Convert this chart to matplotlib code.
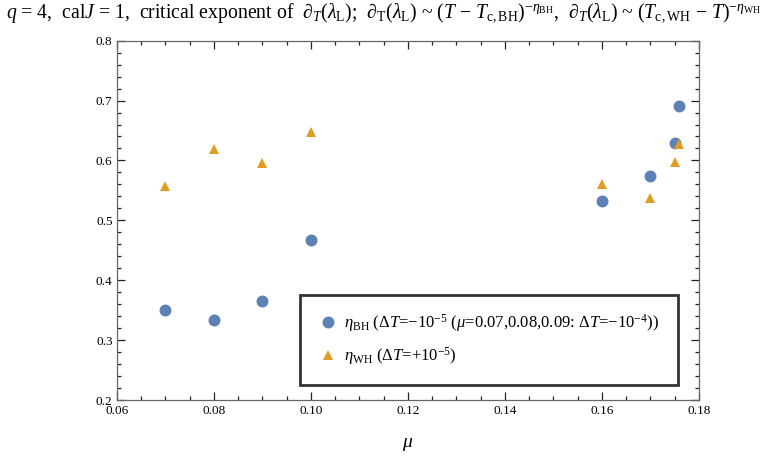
import matplotlib
matplotlib.use("Agg")
import matplotlib.pyplot as plt
from matplotlib.ticker import MultipleLocator

plt.rcParams['font.family'] = ['Liberation Serif', 'DejaVu Serif']
plt.rcParams['mathtext.fontset'] = 'custom'
plt.rcParams['mathtext.rm'] = 'Liberation Serif'
plt.rcParams['mathtext.it'] = 'Liberation Serif:italic'
plt.rcParams['mathtext.bf'] = 'Liberation Serif:bold'

# critical exponents vs chemical potential
mu_values = [0.07, 0.08, 0.09, 0.10, 0.16, 0.17, 0.175, 0.176]
eta_bh = [0.351, 0.333, 0.366, 0.467, 0.532, 0.574, 0.629, 0.691]
eta_wh = [0.557, 0.619, 0.595, 0.647, 0.561, 0.537, 0.598, 0.627]

blue = '#5E81B5'
orange = '#E19C24'

fig = plt.figure(figsize=(7.68, 4.57), dpi=100)
ax = fig.add_axes([0.152, 0.1247, 0.758, 0.7863])

ax.plot(mu_values, eta_bh, 'o', color=blue, markersize=8.6, markeredgewidth=0,
        label=r'$\eta_{\rm BH}$ ($\Delta T$=$-10^{-5}$ ($\mu$=0.07,0.08,0.09: $\Delta T$=$-10^{-4}$))')
ax.plot(mu_values, eta_wh, '^', color=orange, markersize=7.8, markeredgewidth=0,
        label=r'$\eta_{\rm WH}$ ($\Delta T$=+$10^{-5}$)')

ax.set_xlim(0.06, 0.18)
ax.set_ylim(0.2, 0.8)
ax.xaxis.set_major_locator(MultipleLocator(0.02))
ax.xaxis.set_minor_locator(MultipleLocator(0.005))
ax.yaxis.set_major_locator(MultipleLocator(0.1))
ax.yaxis.set_minor_locator(MultipleLocator(0.02))
ax.xaxis.set_major_formatter(matplotlib.ticker.FuncFormatter(lambda v, p: f"{v:.2f}"))
ax.yaxis.set_major_formatter(matplotlib.ticker.FuncFormatter(lambda v, p: f"{v:.1f}"))

ax.tick_params(which='both', direction='in', top=True, right=True,
               labelsize=9.5, color='#222222', width=0.9)
ax.tick_params(axis='x', pad=3.5)
ax.tick_params(axis='y', pad=3)
ax.tick_params(which='major', length=5.5)
ax.tick_params(which='minor', length=3.2)
for s in ax.spines.values():
    s.set_color('#666666')
    s.set_linewidth(0.9)

ax.set_xlabel(r'$\mu$', fontsize=14, family='DejaVu Sans', labelpad=12)
ax.xaxis.label.set_fontstyle('italic')

fig.suptitle(r'$q$ = 4,  cal$J$ = 1,  critical exponent of  $\partial_T(\lambda_{\rm L})$;  '
             r'$\partial_{\rm T}(\lambda_{\rm L})$ ~ ($T$ $-$ $T_{\rm c,BH}$)$^{-\eta_{\rm BH}}$,  '
             r'$\partial_T(\lambda_{\rm L})$ ~ ($T_{\rm c,WH}$ $-$ $T$)$^{-\eta_{\rm WH}}$',
             y=0.997, x=0.5, fontsize=14.2)

leg = ax.legend(loc='upper left', bbox_to_anchor=(0.315, 0.292, 0.649, 0.0),
                mode='expand', fontsize=12, frameon=True, fancybox=False,
                handletextpad=0.3, labelspacing=0.65, borderpad=1.05, handlelength=1.3,
                borderaxespad=0)
leg.get_frame().set_edgecolor('black')
leg.get_frame().set_linewidth(2)

fig.savefig('out.png', dpi=100)
